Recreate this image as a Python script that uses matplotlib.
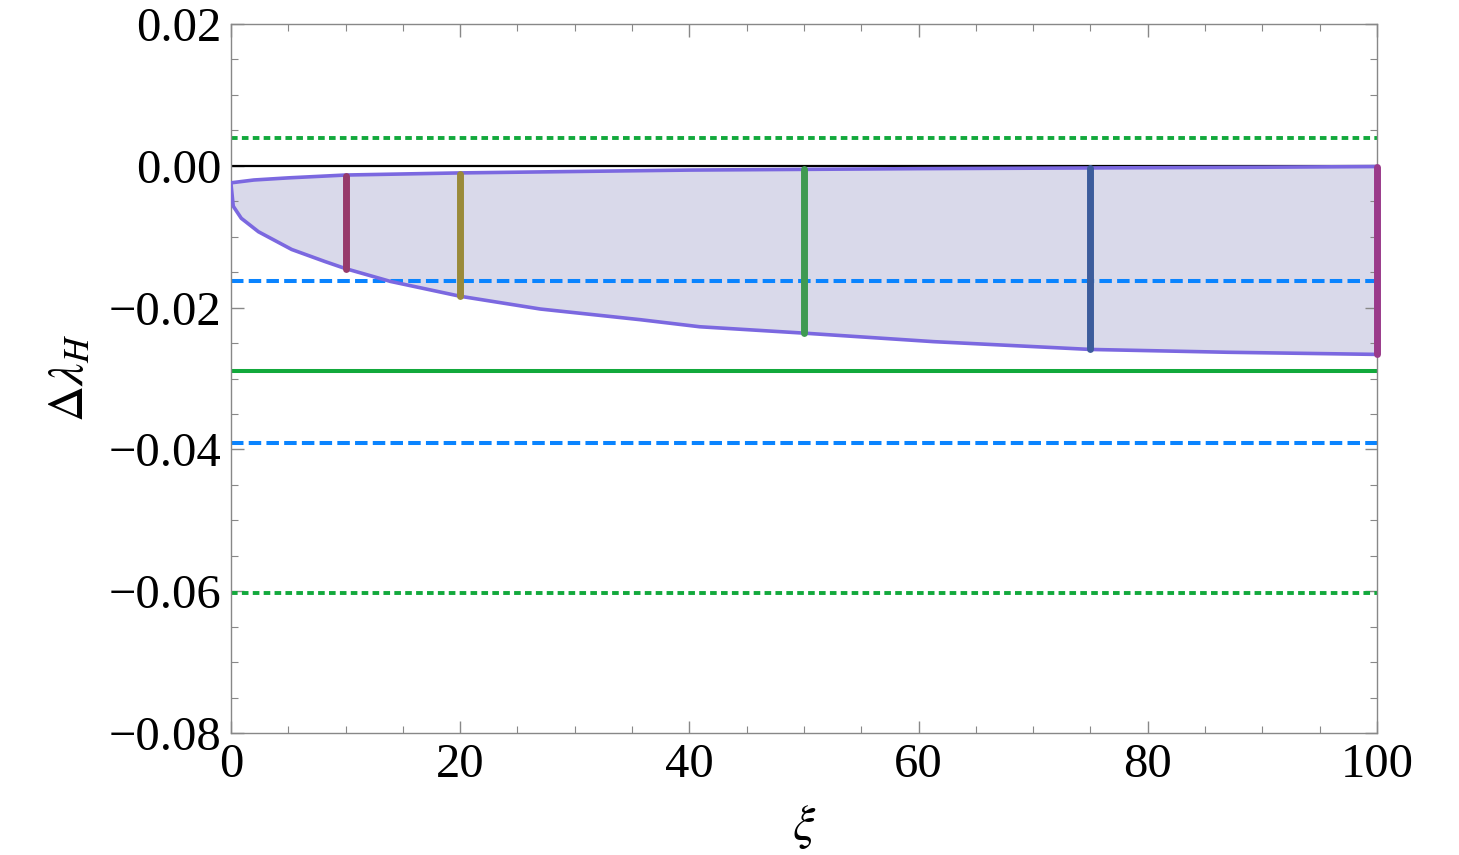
import numpy as np
import matplotlib.pyplot as plt

plt.rcParams['font.family'] = ['Liberation Serif', 'DejaVu Serif']
plt.rcParams['mathtext.fontset'] = 'stix'

# allowed region boundary
xi_low = [0, 0.2, 0.9, 2.4, 5.3, 8.2, 10, 13.9, 20, 27, 35.7, 40.9, 50, 61.3, 75, 87, 100]
lower_b = [-0.0025, -0.0057, -0.0074, -0.0093, -0.0118, -0.0135, -0.0145, -0.0163, -0.0184,
           -0.0202, -0.0217, -0.0227, -0.0236, -0.0248, -0.0259, -0.0263, -0.0266]
xi_up = [0, 2, 5, 10, 20, 30, 40, 50, 60, 75, 90, 100]
upper_b = [-0.0024, -0.0020, -0.0017, -0.0013, -0.0010, -0.0008, -0.0006, -0.0005,
           -0.0004, -0.0003, -0.0002, -0.0001]

# vertical segments at specific xi
seg_xi = [10, 20, 50, 75, 100]
seg_top = [-0.0015, -0.0011, -0.0005, -0.0003, -0.0001]
seg_bot = [-0.0145, -0.0184, -0.0236, -0.0259, -0.0266]
seg_col = ['#973a6b', '#9a8a3a', '#3f9a52', '#3c5c9c', '#9a3a8a']

# horizontal reference lines
green_dot = [0.0039, -0.0602]
blue_dash = [-0.0162, -0.0391]
green_solid = [-0.0290]

fig = plt.figure(figsize=(14.59, 8.55), dpi=100)
ax = fig.add_axes([0.1583, 0.1427, 0.7855, 0.8292])

ax.fill(xi_low + xi_up[::-1], lower_b + upper_b[::-1], color='#d9d9ea', lw=0, zorder=1)
ax.plot(xi_low, lower_b, color='#7b68e0', lw=2.6, zorder=3, solid_joinstyle='round')
ax.plot(xi_up, upper_b, color='#7b68e0', lw=2.6, zorder=3, solid_joinstyle='round')

ax.axhline(0, color='black', lw=1.6, zorder=2)
for y in green_dot:
    ax.axhline(y, color='#12a93c', lw=2.8, dashes=(1.7, 1.1), zorder=2)
for y in blue_dash:
    ax.axhline(y, color='#0a84ff', lw=2.9, dashes=(3.1, 1.3), zorder=2)
for y in green_solid:
    ax.axhline(y, color='#12a93c', lw=2.9, zorder=2)

for x, t, b, c in zip(seg_xi, seg_top, seg_bot, seg_col):
    ax.plot([x, x], [b, t], color=c, lw=5, solid_capstyle='round', zorder=4, clip_on=False)

ax.set_xlim(0, 100)
ax.set_ylim(-0.08, 0.02)
ax.set_xticks(np.arange(0, 101, 20))
ax.set_xticks(np.arange(0, 101, 5), minor=True)
ax.set_yticks(np.arange(-0.08, 0.021, 0.02))
ax.set_yticks(np.arange(-0.08, 0.021, 0.005), minor=True)
ax.set_yticklabels(['\u22120.08', '\u22120.06', '\u22120.04', '\u22120.02', '0.00', '0.02'])
ax.tick_params(which='both', direction='in', top=True, right=True, color='#888888',
               labelsize=35, pad=7)
ax.tick_params(which='major', length=9, width=1)
ax.tick_params(which='minor', length=5, width=0.8)
for s in ax.spines.values():
    s.set_color('#888888')
    s.set_linewidth(1)

ax.set_xlabel(r'$\xi$', fontsize=36, labelpad=12)
ax.set_ylabel(r'$\Delta\lambda_H$', fontsize=36, labelpad=10)

fig.savefig('out.png', dpi=100)
